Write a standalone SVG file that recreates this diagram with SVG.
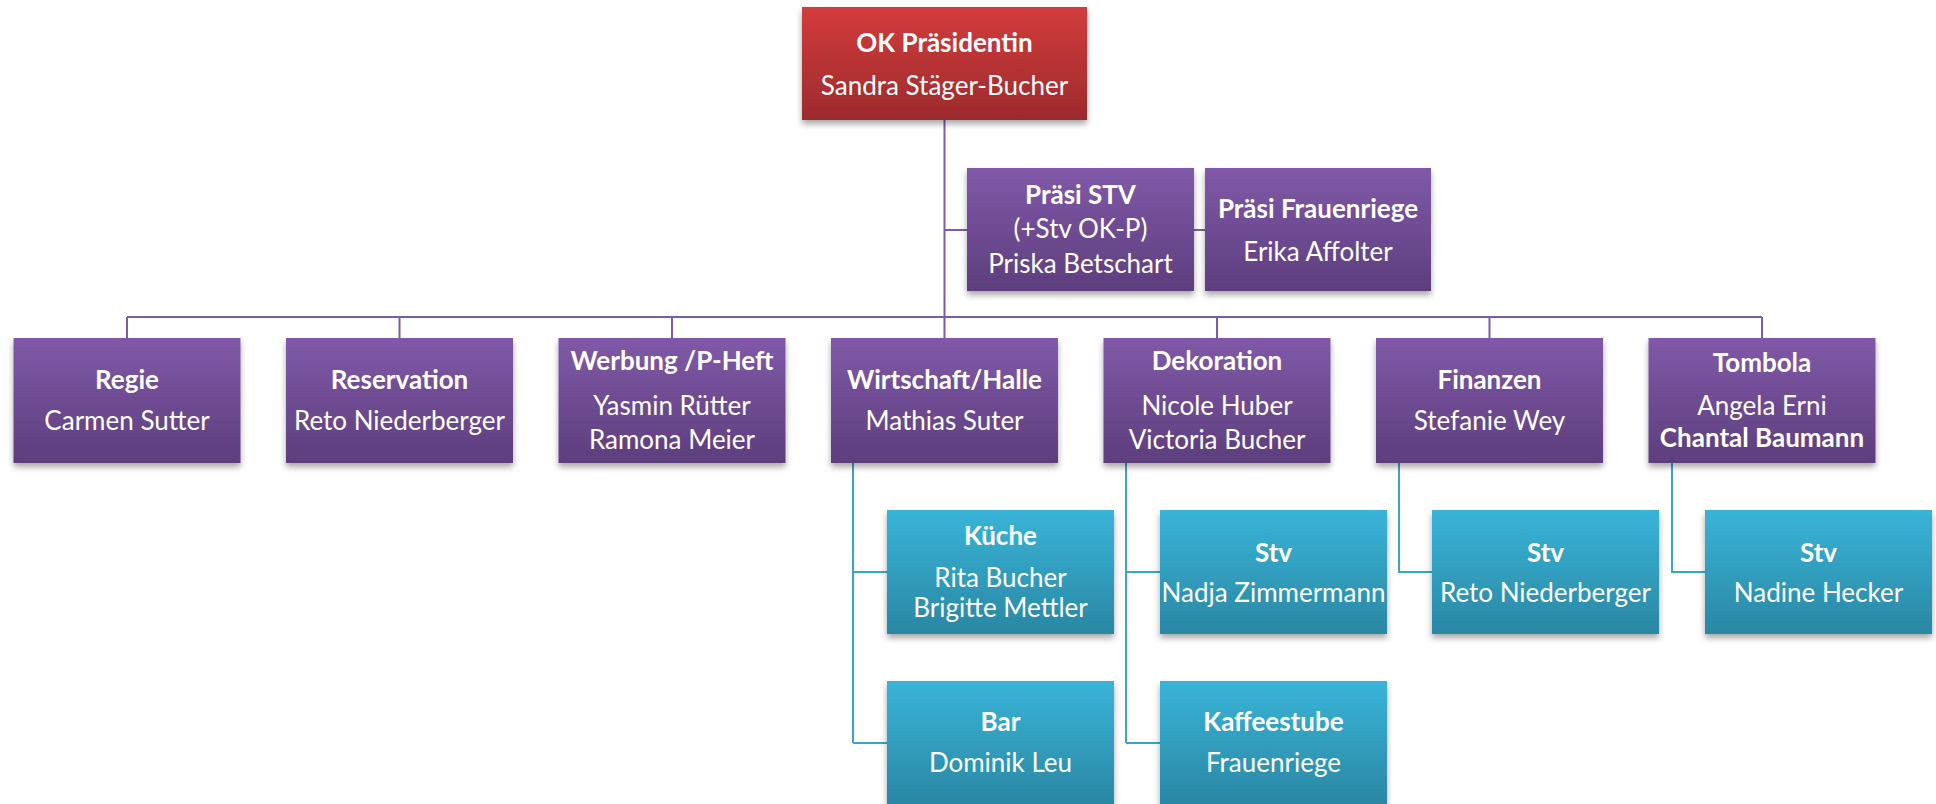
<svg xmlns="http://www.w3.org/2000/svg" width="1936" height="804" viewBox="0 0 1936 804">
<style>
text{font-family:Lato,"Open Sans","Liberation Sans",sans-serif;font-size:26px;fill:#fff;text-anchor:middle}
.b{font-weight:bold}
.con{fill:none;stroke-width:2}
.cp{stroke:#7b5ca7}
.cb{stroke:#3aa5c6}
</style>
<defs>
<linearGradient id="gr" x1="0" y1="0" x2="0" y2="1"><stop offset="0" stop-color="#d33c3d"/><stop offset="1" stop-color="#9c2a2c"/></linearGradient>
<linearGradient id="gp" x1="0" y1="0" x2="0" y2="1"><stop offset="0" stop-color="#8059a8"/><stop offset="1" stop-color="#5d3e7d"/></linearGradient>
<linearGradient id="gb" x1="0" y1="0" x2="0" y2="1"><stop offset="0" stop-color="#39b4d8"/><stop offset="1" stop-color="#2a87a3"/></linearGradient>
<filter id="sh" x="-10%" y="-10%" width="120%" height="130%"><feDropShadow dx="0" dy="4" stdDeviation="3" flood-color="#000" flood-opacity="0.35"/></filter>
</defs>
<g id="connectors">
<path class="con cp" d="M944.5 120V317M944.5 230H967M1194 230H1205M127 317H1762M127 317V338M399.5 317V338M672 317V338M944.5 317V338M1217 317V338M1489.5 317V338M1762 317V338"/>
<path class="con cb" d="M853 463V743M853 572H887M853 743H887M1126 463V743M1126 572H1160M1126 743H1160M1399 463V572H1432M1672 463V572H1705"/>
</g>
<g id="n-praesidentin"><rect x="802" y="7" width="285" height="113" fill="url(#gr)" filter="url(#sh)"/><text x="944.5" y="52" class="b">OK Präsidentin</text><text x="944.5" y="95">Sandra Stäger-Bucher</text></g>
<g id="n-praesi-stv"><rect x="967" y="168" width="227" height="123" fill="url(#gp)" filter="url(#sh)"/><text x="1080.5" y="204" class="b">Präsi STV</text><text x="1080.5" y="238">(+Stv OK-P)</text><text x="1080.5" y="273">Priska Betschart</text></g>
<g id="n-praesi-frauenriege"><rect x="1205" y="168" width="226" height="123" fill="url(#gp)" filter="url(#sh)"/><text x="1318" y="218" class="b">Präsi Frauenriege</text><text x="1318" y="261">Erika Affolter</text></g>
<g id="n-regie"><rect x="13.5" y="338" width="227" height="125" fill="url(#gp)" filter="url(#sh)"/><text x="127" y="389" class="b">Regie</text><text x="127" y="430">Carmen Sutter</text></g>
<g id="n-reservation"><rect x="286" y="338" width="227" height="125" fill="url(#gp)" filter="url(#sh)"/><text x="399.5" y="389" class="b">Reservation</text><text x="399.5" y="430">Reto Niederberger</text></g>
<g id="n-werbung"><rect x="558.5" y="338" width="227" height="125" fill="url(#gp)" filter="url(#sh)"/><text x="672" y="370" class="b">Werbung /P-Heft</text><text x="672" y="415">Yasmin Rütter</text><text x="672" y="449">Ramona Meier</text></g>
<g id="n-wirtschaft"><rect x="831" y="338" width="227" height="125" fill="url(#gp)" filter="url(#sh)"/><text x="944.5" y="389" class="b">Wirtschaft/Halle</text><text x="944.5" y="430">Mathias Suter</text></g>
<g id="n-dekoration"><rect x="1103.5" y="338" width="227" height="125" fill="url(#gp)" filter="url(#sh)"/><text x="1217" y="370" class="b">Dekoration</text><text x="1217" y="415">Nicole Huber</text><text x="1217" y="449">Victoria Bucher</text></g>
<g id="n-finanzen"><rect x="1376" y="338" width="227" height="125" fill="url(#gp)" filter="url(#sh)"/><text x="1489.5" y="389" class="b">Finanzen</text><text x="1489.5" y="430">Stefanie Wey</text></g>
<g id="n-tombola"><rect x="1648.5" y="338" width="227" height="125" fill="url(#gp)" filter="url(#sh)"/><text x="1762" y="372" class="b">Tombola</text><text x="1762" y="415">Angela Erni</text><text x="1762" y="447" class="b">Chantal Baumann</text></g>
<g id="n-kueche"><rect x="887" y="510" width="227" height="124" fill="url(#gb)" filter="url(#sh)"/><text x="1000.5" y="545" class="b">Küche</text><text x="1000.5" y="587">Rita Bucher</text><text x="1000.5" y="617">Brigitte Mettler</text></g>
<g id="n-stv-deko"><rect x="1160" y="510" width="227" height="124" fill="url(#gb)" filter="url(#sh)"/><text x="1273.5" y="562" class="b">Stv</text><text x="1273.5" y="602">Nadja Zimmermann</text></g>
<g id="n-stv-finanzen"><rect x="1432" y="510" width="227" height="124" fill="url(#gb)" filter="url(#sh)"/><text x="1545.5" y="562" class="b">Stv</text><text x="1545.5" y="602">Reto Niederberger</text></g>
<g id="n-stv-tombola"><rect x="1705" y="510" width="227" height="124" fill="url(#gb)" filter="url(#sh)"/><text x="1818.5" y="562" class="b">Stv</text><text x="1818.5" y="602">Nadine Hecker</text></g>
<g id="n-bar"><rect x="887" y="681" width="227" height="123" fill="url(#gb)" filter="url(#sh)"/><text x="1000.5" y="731" class="b">Bar</text><text x="1000.5" y="772">Dominik Leu</text></g>
<g id="n-kaffeestube"><rect x="1160" y="681" width="227" height="123" fill="url(#gb)" filter="url(#sh)"/><text x="1273.5" y="731" class="b">Kaffeestube</text><text x="1273.5" y="772">Frauenriege</text></g>
</svg>
